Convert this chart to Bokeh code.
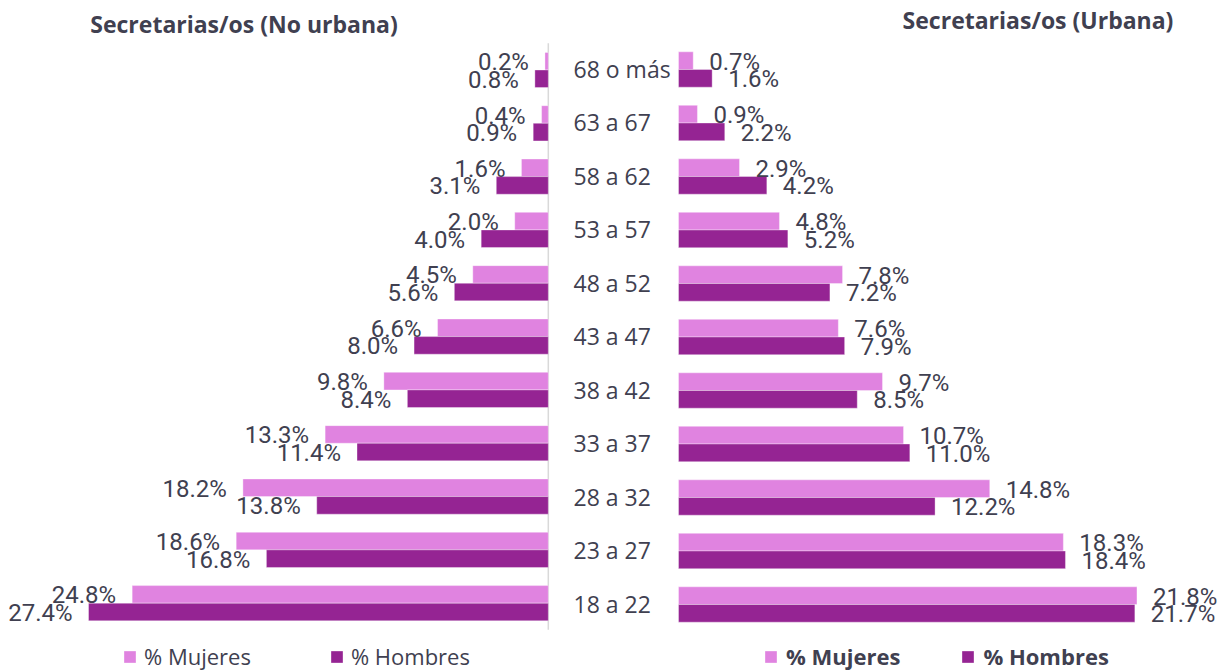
from bokeh.plotting import figure
from bokeh.models import Range1d, ColumnDataSource, Label, Legend, LegendItem
from bokeh.core.properties import value
from bokeh.embed import file_html
from bokeh.resources import INLINE

# ---------------- data ----------------
categories = ["68 o más", "63 a 67", "58 a 62", "53 a 57", "48 a 52", "43 a 47",
              "38 a 42", "33 a 37", "28 a 32", "23 a 27", "18 a 22"]
nu_mujeres = [0.2, 0.4, 1.6, 2.0, 4.5, 6.6, 9.8, 13.3, 18.2, 18.6, 24.8]
nu_hombres = [0.8, 0.9, 3.1, 4.0, 5.6, 8.0, 8.4, 11.4, 13.8, 16.8, 27.4]
u_mujeres = [0.7, 0.9, 2.9, 4.8, 7.8, 7.6, 9.7, 10.7, 14.8, 18.3, 21.8]
u_hombres = [1.6, 2.2, 4.2, 5.2, 7.2, 7.9, 8.5, 11.0, 12.2, 18.4, 21.7]
title_left = "Secretarias/os (No urbana)"
title_right = "Secretarias/os (Urbana)"
legend_labels = ["% Mujeres", "% Hombres"]

# ---------------- style ----------------
MUJ = "#E083E0"
HOM = "#952493"
TXT = "#404050"
LAB_FONT = value("Roboto")
W, H = 1223, 671
BH = 0.33  # bar thickness (row units)

n = len(categories)
pos = [n - 1 - i for i in range(n)]

def fmt(v):
    return f"{v:.1f}%"

left_m = ColumnDataSource(dict(y=[q + BH / 2 for q in pos], x=[-v for v in nu_mujeres],
                               lab=[fmt(v) for v in nu_mujeres]))
left_h = ColumnDataSource(dict(y=[q - BH / 2 for q in pos], x=[-v for v in nu_hombres],
                               lab=[fmt(v) for v in nu_hombres]))
right_m = ColumnDataSource(dict(y=[q + BH / 2 for q in pos], x=u_mujeres,
                                lab=[fmt(v) for v in u_mujeres]))
right_h = ColumnDataSource(dict(y=[q - BH / 2 for q in pos], x=u_hombres,
                                lab=[fmt(v) for v in u_hombres]))
cats = ColumnDataSource(dict(y=pos, cat=categories))

p = figure(width=W, height=H, output_backend="svg", toolbar_location=None,
           x_range=Range1d(-32.646, 40.238), y_range=Range1d(-1.281, 11.303),
           x_axis_location=None, y_axis_location=None, min_border=0,
           outline_line_color=None)
p.grid.visible = False
p.extra_x_ranges = {"r": Range1d(-32.240, 25.915)}
p.extra_y_ranges = {"r": Range1d(-1.2523, 11.290)}

# vertical axis line of the left panel
p.segment(x0=0, y0=-0.5, x1=0, y1=n - 0.5, line_color="#D9D9D9", line_width=1.5)

edge = dict(line_color="white", line_alpha=0.35, line_width=1)
r_lm = p.hbar(y="y", left="x", right=0, height=BH, source=left_m, fill_color=MUJ, **edge)
r_lh = p.hbar(y="y", left="x", right=0, height=BH, source=left_h, fill_color=HOM, **edge)
r_rm = p.hbar(y="y", left=0, right="x", height=BH, source=right_m, fill_color=MUJ,
              x_range_name="r", y_range_name="r", **edge)
r_rh = p.hbar(y="y", left=0, right="x", height=BH, source=right_h, fill_color=HOM,
              x_range_name="r", y_range_name="r", **edge)

lab_style = dict(text_font=LAB_FONT, text_font_size="24px", text_color=TXT,
                 text_baseline="middle")
p.text(x="x", y="y", text="lab", source=left_m, text_align="right", x_offset=-16, y_offset=1, **lab_style)
p.text(x="x", y="y", text="lab", source=left_h, text_align="right", x_offset=-16, y_offset=1, **lab_style)
p.text(x="x", y="y", text="lab", source=right_m, text_align="left", x_offset=16, y_offset=1,
       x_range_name="r", y_range_name="r", **lab_style)
p.text(x="x", y="y", text="lab", source=right_h, text_align="left", x_offset=16, y_offset=1,
       x_range_name="r", y_range_name="r", **lab_style)

# category labels between the panels
p.text(x=0, y="y", text="cat", source=cats, x_range_name="r", y_range_name="r",
       x_offset=-105, y_offset=-1, text_align="left", text_baseline="middle",
       text_font=value("Open Sans"), text_font_size="23px", text_color=TXT)

# titles
p.add_layout(Label(x=243.5, y=H - 23, x_units="screen", y_units="screen",
                   text=title_left, text_align="center", text_baseline="alphabetic",
                   text_font="Open Sans", text_font_style="bold", text_font_size="23px",
                   text_color=TXT))
p.add_layout(Label(x=1037.5, y=H - 19, x_units="screen", y_units="screen",
                   text=title_right, text_align="center", text_baseline="alphabetic",
                   text_font="Open Sans", text_font_style="bold", text_font_size="23px",
                   text_color=TXT))

# legends
leg_common = dict(orientation="horizontal", label_text_font="Open Sans",
                  label_text_font_size="22px", label_text_color=TXT,
                  glyph_width=15, glyph_height=15, padding=0, margin=0,
                  border_line_color=None, background_fill_alpha=0)
leg_l = Legend(items=[LegendItem(label=legend_labels[0], renderers=[r_lm]),
                      LegendItem(label=legend_labels[1], renderers=[r_lh])],
               location=(122, 0), label_standoff=7, spacing=78, **leg_common)
leg_r = Legend(items=[LegendItem(label=legend_labels[0], renderers=[r_rm]),
                      LegendItem(label=legend_labels[1], renderers=[r_rh])],
               location=(763, 0), label_standoff=8, spacing=60,
               label_text_font_style="bold", **leg_common)
p.add_layout(leg_l)
p.add_layout(leg_r)

open("out.html", "w").write(file_html(p, INLINE))
